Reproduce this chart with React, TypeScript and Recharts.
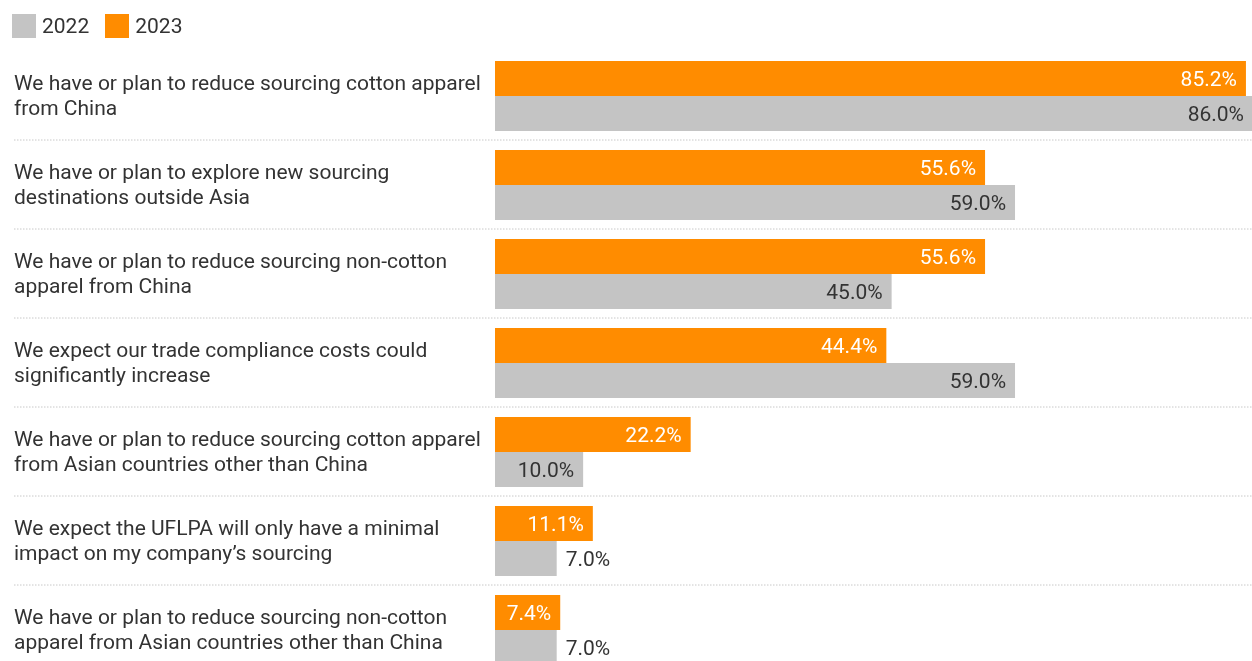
import React from "react";
import { BarChart, Bar, XAxis, YAxis, LabelList } from "recharts";

const categories = [
  "We have or plan to reduce sourcing cotton apparel\nfrom China",
  "We have or plan to explore new sourcing\ndestinations outside Asia",
  "We have or plan to reduce sourcing non-cotton\napparel from China",
  "We expect our trade compliance costs could\nsignificantly increase",
  "We have or plan to reduce sourcing cotton apparel\nfrom Asian countries other than China",
  "We expect the UFLPA will only have a minimal\nimpact on my company\u2019s sourcing",
  "We have or plan to reduce sourcing non-cotton\napparel from Asian countries other than China",
];
const values2022 = [86.0, 59.0, 45.0, 59.0, 10.0, 7.0, 7.0];
const values2023 = [85.2, 55.6, 55.6, 44.4, 22.2, 11.1, 7.4];
const seriesNames = ["2022", "2023"];

const GRAY = "#c4c4c4";
const ORANGE = "#ff8c00";
const FONT = "Roboto, sans-serif";

const data = categories.map((c, i) => ({
  category: c,
  v2022: values2022[i],
  v2023: values2023[i],
}));

const CategoryTick = (props: any) => {
  const { y, payload, index } = props;
  const lines = String(payload.value).split("\n");
  const half = payload && typeof payload.offset === "number" && payload.offset > 0 ? payload.offset : 44.5;
  return (
    <g>
      <text x={6} y={y} textAnchor="start" fontFamily={FONT} fontSize={21} fill="#333">
        {lines.map((l: string, i: number) => (
          <tspan key={i} x={6} y={y + (i - (lines.length - 1) / 2) * 25} dy="0.35em">
            {l}
          </tspan>
        ))}
      </text>
      {index < categories.length - 1 && (
        <line x1={6} x2={1246} y1={y + half} y2={y + half} stroke="#c8c8c8" strokeWidth={1} strokeDasharray="1.5 1.5" />
      )}
    </g>
  );
};

const makeLabel = (insideColor: string) => (props: any) => {
  const { x, y, width, height, value } = props;
  const text = `${Number(value).toFixed(1)}%`;
  const inside = width > 63;
  const cy = y + height / 2;
  return (
    <text
      x={inside ? x + width - 9 : x + width + 9}
      y={cy}
      dy="0.35em"
      textAnchor={inside ? "end" : "start"}
      fontFamily={FONT}
      fontSize={21}
      fill={inside ? insideColor : "#333"}
    >
      {text}
    </text>
  );
};

const LegendBox = () => (
  <div style={{ position: "absolute", left: 4, top: 6, display: "flex", alignItems: "center", fontFamily: FONT, fontSize: 21, color: "#333" }}>
    {[GRAY, ORANGE].map((c, i) => (
      <div key={i} style={{ display: "flex", alignItems: "center", marginRight: 16 }}>
        <div style={{ width: 24, height: 24, background: c, marginRight: 6 }} />
        <span>{seriesNames[i]}</span>
      </div>
    ))}
  </div>
);

export default function App() {
  return (
    <div style={{ position: "fixed", left: 8, top: 8, width: 1252, height: 670 }}>
      <LegendBox />
      <BarChart
        width={1252}
        height={670}
        data={data}
        layout="vertical"
        margin={{ top: 43, right: 7, bottom: 4, left: 0 }}
        barCategoryGap={10}
        barGap={0}
      >
        <XAxis type="number" domain={[0, 86]} hide />
        <YAxis
          type="category"
          dataKey="category"
          width={487}
          axisLine={false}
          tickLine={false}
          tick={<CategoryTick />}
          interval={0}
        />
        <Bar dataKey="v2023" name="2023" fill={ORANGE} isAnimationActive={false}>
          <LabelList dataKey="v2023" content={makeLabel("#ffffff")} />
        </Bar>
        <Bar dataKey="v2022" name="2022" fill={GRAY} isAnimationActive={false}>
          <LabelList dataKey="v2022" content={makeLabel("#333")} />
        </Bar>
      </BarChart>
    </div>
  );
}
